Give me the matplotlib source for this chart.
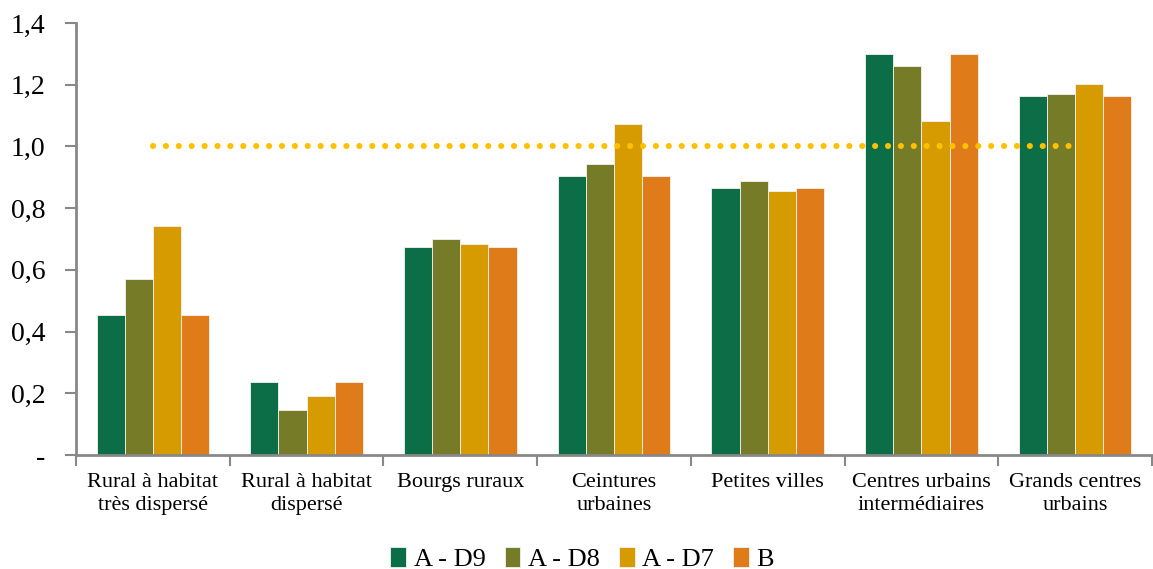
import numpy as np
import matplotlib
matplotlib.use("Agg")
import matplotlib.pyplot as plt
from matplotlib.ticker import FuncFormatter

categories = ["Rural à habitat\ntrès dispersé", "Rural à habitat\ndispersé", "Bourgs ruraux",
              "Ceintures\nurbaines", "Petites villes", "Centres urbains\nintermédiaires",
              "Grands centres\nurbains"]
series = ["A - D9", "A - D8", "A - D7", "B"]
a_d9 = [0.455, 0.236, 0.674, 0.904, 0.865, 1.299, 1.163]
a_d8 = [0.569, 0.146, 0.699, 0.942, 0.888, 1.260, 1.171]
a_d7 = [0.742, 0.190, 0.683, 1.073, 0.855, 1.081, 1.203]
b = [0.455, 0.236, 0.674, 0.904, 0.865, 1.299, 1.163]
reference = [1.0] * 7

colors = ["#0B6E47", "#767B27", "#D59B00", "#E07B1A"]

plt.rcParams['font.family'] = ['Liberation Serif', 'DejaVu Serif']

fig = plt.figure(figsize=(11.53, 5.69), dpi=100)
ax = fig.add_axes([76/1153, 1-455/569, 1-77/1153, 432/569])

x = np.arange(len(categories))
w = 0.183
for i, (vals, name) in enumerate(zip([a_d9, a_d8, a_d7, b], series)):
    ax.bar(x + (i - 1.5)*w, vals, w, color=colors[i], edgecolor="#f2f2f2",
           linewidth=0.6, label=name, zorder=2)

# ligne de référence à 1
ax.plot(x, reference, linestyle=(0, (0.01, 2.1)), color="#FFC000", linewidth=4.4,
        dash_capstyle="round", zorder=3)

ax.set_xlim(-0.5, len(categories) - 0.5)
ax.set_ylim(0, 1.4)
ax.set_yticks(np.arange(0, 1.41, 0.2))
ax.yaxis.set_major_formatter(FuncFormatter(
    lambda v, p: "-" if abs(v) < 1e-9 else ("%.1f" % v).replace(".", ",")))

ax.set_xticks(np.arange(-0.5, len(categories), 1.0))
ax.set_xticklabels([])
ax.set_xticks(x, minor=True)
ax.set_xticklabels(categories, minor=True, fontsize=16, linespacing=1.3)
ax.tick_params(axis="x", which="minor", length=0, pad=13)
ax.tick_params(axis="x", which="major", length=8, width=1.5, color="#888888", direction="out")
ax.tick_params(axis="y", length=8, width=1.5, color="#888888", pad=14, labelsize=20)

for s in ["top", "right"]:
    ax.spines[s].set_visible(False)
for s in ["left", "bottom"]:
    ax.spines[s].set_color("#888888")
    ax.spines[s].set_linewidth(2)

fig.legend(loc="lower center", bbox_to_anchor=(0.505, -0.045), ncol=4, frameon=False,
           fontsize=19, handlelength=0.6, handleheight=0.8, handletextpad=0.3,
           columnspacing=0.7)

fig.savefig("out.png", dpi=100)
